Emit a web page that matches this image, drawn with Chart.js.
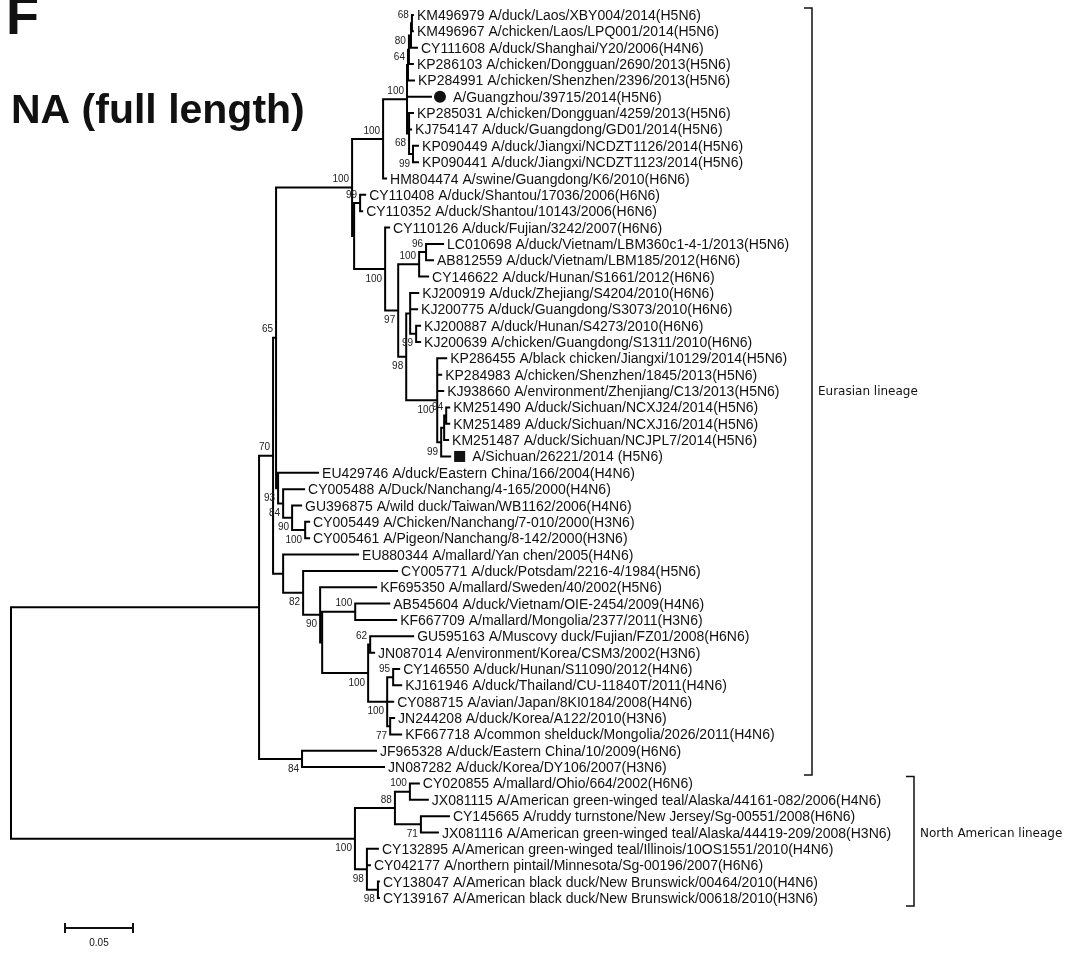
<!DOCTYPE html>
<html lang="en">
<head>
<meta charset="UTF-8">
<title>NA (full length)</title>
<script src="https://cdn.jsdelivr.net/npm/chart.js"></script>
<style>
  body { margin: 0; background: #fff; }
  #wrap { position: relative; width: 1071px; height: 956px; }
</style>
</head>
<body>
<div id="wrap"><canvas id="tree"></canvas></div>
<script>
// taxa, top to bottom
const taxa = [
  'KM496979 A/duck/Laos/XBY004/2014(H5N6)',
  'KM496967 A/chicken/Laos/LPQ001/2014(H5N6)',
  'CY111608 A/duck/Shanghai/Y20/2006(H4N6)',
  'KP286103 A/chicken/Dongguan/2690/2013(H5N6)',
  'KP284991 A/chicken/Shenzhen/2396/2013(H5N6)',
  'A/Guangzhou/39715/2014(H5N6)',
  'KP285031 A/chicken/Dongguan/4259/2013(H5N6)',
  'KJ754147 A/duck/Guangdong/GD01/2014(H5N6)',
  'KP090449 A/duck/Jiangxi/NCDZT1126/2014(H5N6)',
  'KP090441 A/duck/Jiangxi/NCDZT1123/2014(H5N6)',
  'HM804474 A/swine/Guangdong/K6/2010(H6N6)',
  'CY110408 A/duck/Shantou/17036/2006(H6N6)',
  'CY110352 A/duck/Shantou/10143/2006(H6N6)',
  'CY110126 A/duck/Fujian/3242/2007(H6N6)',
  'LC010698 A/duck/Vietnam/LBM360c1-4-1/2013(H5N6)',
  'AB812559 A/duck/Vietnam/LBM185/2012(H6N6)',
  'CY146622 A/duck/Hunan/S1661/2012(H6N6)',
  'KJ200919 A/duck/Zhejiang/S4204/2010(H6N6)',
  'KJ200775 A/duck/Guangdong/S3073/2010(H6N6)',
  'KJ200887 A/duck/Hunan/S4273/2010(H6N6)',
  'KJ200639 A/chicken/Guangdong/S1311/2010(H6N6)',
  'KP286455 A/black chicken/Jiangxi/10129/2014(H5N6)',
  'KP284983 A/chicken/Shenzhen/1845/2013(H5N6)',
  'KJ938660 A/environment/Zhenjiang/C13/2013(H5N6)',
  'KM251490 A/duck/Sichuan/NCXJ24/2014(H5N6)',
  'KM251489 A/duck/Sichuan/NCXJ16/2014(H5N6)',
  'KM251487 A/duck/Sichuan/NCJPL7/2014(H5N6)',
  'A/Sichuan/26221/2014 (H5N6)',
  'EU429746 A/duck/Eastern China/166/2004(H4N6)',
  'CY005488 A/Duck/Nanchang/4-165/2000(H4N6)',
  'GU396875 A/wild duck/Taiwan/WB1162/2006(H4N6)',
  'CY005449 A/Chicken/Nanchang/7-010/2000(H3N6)',
  'CY005461 A/Pigeon/Nanchang/8-142/2000(H3N6)',
  'EU880344 A/mallard/Yan chen/2005(H4N6)',
  'CY005771 A/duck/Potsdam/2216-4/1984(H5N6)',
  'KF695350 A/mallard/Sweden/40/2002(H5N6)',
  'AB545604 A/duck/Vietnam/OIE-2454/2009(H4N6)',
  'KF667709 A/mallard/Mongolia/2377/2011(H3N6)',
  'GU595163 A/Muscovy duck/Fujian/FZ01/2008(H6N6)',
  'JN087014 A/environment/Korea/CSM3/2002(H3N6)',
  'CY146550 A/duck/Hunan/S11090/2012(H4N6)',
  'KJ161946 A/duck/Thailand/CU-11840T/2011(H4N6)',
  'CY088715 A/avian/Japan/8KI0184/2008(H4N6)',
  'JN244208 A/duck/Korea/A122/2010(H3N6)',
  'KF667718 A/common shelduck/Mongolia/2026/2011(H4N6)',
  'JF965328 A/duck/Eastern China/10/2009(H6N6)',
  'JN087282 A/duck/Korea/DY106/2007(H3N6)',
  'CY020855 A/mallard/Ohio/664/2002(H6N6)',
  'JX081115 A/American green-winged teal/Alaska/44161-082/2006(H4N6)',
  'CY145665 A/ruddy turnstone/New Jersey/Sg-00551/2008(H6N6)',
  'JX081116 A/American green-winged teal/Alaska/44419-209/2008(H3N6)',
  'CY132895 A/American green-winged teal/Illinois/10OS1551/2010(H4N6)',
  'CY042177 A/northern pintail/Minnesota/Sg-00196/2007(H6N6)',
  'CY138047 A/American black duck/New Brunswick/00464/2010(H4N6)',
  'CY139167 A/American black duck/New Brunswick/00618/2010(H3N6)'
];

const leafParent = [
  'N68', 'N68', 'N2', 'N80', 'N64', 'A', 'NK', 'NK', 'NJ', 'NJ',
  'B', 'SH', 'SH', 'E', 'J', 'J', 'I', 'L', 'L', 'L99',
  'L99', 'M', 'M', 'M', 'O', 'O', 'P', 'N', 'R', 'S',
  'T', 'U', 'U', 'W', 'X', 'Y', 'Z', 'Z', 'AF', 'AF',
  'AB', 'AB', 'AD', 'AC', 'AC', 'JJ', 'JJ', 'N100', 'N100', 'N71',
  'N71', 'AH', 'AH', 'AG', 'AG'
];

const leafLength = [
  0.0007, 0.0007, 0.0044, 0.0029, 0.0044, 0.0176, 0.0029, 0.0015, 0.0037, 0.0037,
  0.0022, 0.0037, 0.0015, 0.0029, 0.0125, 0.0051, 0.0066, 0.0059, 0.0051, 0.0029,
  0.0029, 0.0066, 0.0029, 0.0044, 0.0022, 0.0022, 0.0029, 0.0066, 0.0294, 0.0154,
  0.0066, 0.0029, 0.0029, 0.0551, 0.0691, 0.0412, 0.0250, 0.0301, 0.0316, 0.0029,
  0.0044, 0.0059, 0.0044, 0.0029, 0.0081, 0.0544, 0.0603, 0.0066, 0.0132, 0.0206,
  0.0125, 0.0081, 0.0022, 0.0007, 0.0007
];

// the two sequences from this study
const markedTaxa = [5, 27];
const markerShapes = ['circle', 'square'];

// internal nodes, parents listed before children
const nodeIds = [
  'root', 'EU', 'NA', 'V', 'JJ', 'Q', 'W', 'C', 'R', 'S',
  'T', 'U', 'B', 'F', 'A', 'N64', 'N80', 'N2', 'N68', 'NK',
  'NJ', 'SH', 'E', 'G', 'I', 'J', 'K', 'L', 'L99', 'M',
  'N', 'P', 'O', 'X', 'Y', 'Y2', 'Z', 'AE', 'AF', 'AD',
  'AB', 'AC', 'N88', 'N100', 'N71', 'AH', 'AG'
];
const nodeParent = [
  null, 'root', 'root', 'EU', 'EU', 'V', 'V', 'Q', 'Q', 'R',
  'S', 'T', 'C', 'C', 'B', 'A', 'N64', 'N80', 'N2', 'A',
  'NK', 'F', 'F', 'E', 'G', 'I', 'G', 'K', 'L', 'K',
  'M', 'N', 'P', 'W', 'X', 'Y', 'Y2', 'Y2', 'AE', 'AE',
  'AD', 'AD', 'NA', 'N88', 'N88', 'NA', 'AH'
];
const nodeLength = [
  0, 0.1824, 0.2529, 0.0103, 0.0316, 0.0022, 0.0074, 0.0559, 0.0015, 0.0037,
  0.0066, 0.0096, 0.0228, 0.0015, 0.0176, 0.0007, 0.0007, 0.0015, 0.0007, 0.0015,
  0.0029, 0.0044, 0.0228, 0.0096, 0.0154, 0.0051, 0.0059, 0.0029, 0.0044, 0.0228,
  0.0029, 0.0022, 0.0015, 0.0147, 0.0125, 0.0015, 0.0243, 0.0338, 0.0015, 0.0140,
  0.0044, 0.0022, 0.0294, 0.0110, 0.0191, 0.0088, 0.0081
];
const nodeSupport = [
  null, null, 100, 70, 84, 65, null, 100, 93, 84,
  90, 100, 100, null, 100, 64, 80, null, 68, 68,
  99, 99, 100, 97, 100, 96, 98, null, 99, 100,
  99, null, 94, 82, 90, null, 100, 100, 62, 100,
  95, 77, 88, 100, 71, 98, 98
];

const lineageNames = ['Eurasian lineage', 'North American lineage'];
const lineageFirst = [0, 47];
const lineageLast = [46, 54];

const scaleBarLength = 0.05;

// page geometry
const W = 1071, H = 956;
const PX_PER_UNIT = 1360, ROOT_PX = 11;
const ROW_PX = 16.35, FIRST_ROW_PX = 15;

// --- lay the tree out in data units (x = distance from root, y = row) ---
const nodeX = {}, nodeY = {}, kidsY = {};
nodeIds.forEach((id, i) => {
  nodeX[id] = nodeParent[i] ? nodeX[nodeParent[i]] + nodeLength[i] : 0;
  kidsY[id] = [];
});
const leafX = taxa.map((t, i) => nodeX[leafParent[i]] + leafLength[i]);
taxa.forEach((t, i) => kidsY[leafParent[i]].push(i));
for (let i = nodeIds.length - 1; i >= 0; i--) {
  const id = nodeIds[i];
  const ys = kidsY[id];
  nodeY[id] = (Math.min(...ys) + Math.max(...ys)) / 2;
  if (nodeParent[i]) kidsY[nodeParent[i]].push(nodeY[id]);
}

const segs = [];
function seg(x1, y1, x2, y2) {
  segs.push({x: x1, y: y1}, {x: x2, y: y2}, {x: NaN, y: NaN});
}
nodeIds.forEach((id, i) => {
  const ys = kidsY[id];
  seg(nodeX[id], Math.min(...ys), nodeX[id], Math.max(...ys));
  if (nodeParent[i]) seg(nodeX[nodeParent[i]], nodeY[id], nodeX[id], nodeY[id]);
});
taxa.forEach((t, i) => seg(nodeX[leafParent[i]], i, leafX[i], i));

const treeText = {
  id: 'treeText',
  afterDatasetsDraw(chart) {
    const {ctx, scales: {x, y}} = chart;
    ctx.save();
    ctx.fillStyle = '#111';

    // panel letter and title
    ctx.font = 'bold 54px "Liberation Sans", Arial, sans-serif';
    ctx.fillText('F', 6, 34);
    ctx.font = 'bold 41px "Liberation Sans", Arial, sans-serif';
    ctx.fillText('NA (full length)', 11, 123);

    // taxon names
    ctx.font = '14px "Liberation Sans", Arial, sans-serif';
    taxa.forEach((name, i) => {
      const px = x.getPixelForValue(leafX[i]);
      const py = y.getPixelForValue(i);
      let tx = px + 4;
      const m = markedTaxa.indexOf(i);
      if (m >= 0) {
        if (markerShapes[m] === 'circle') {
          ctx.beginPath();
          ctx.arc(px + 9, py, 6, 0, 2 * Math.PI);
          ctx.fill();
        } else {
          ctx.fillRect(px + 4, py - 5.5, 11, 11);
        }
        tx = px + 22;
      }
      ctx.fillText(name, tx, py + 5);
    });

    // bootstrap values
    ctx.font = '10px "Liberation Sans", Arial, sans-serif';
    ctx.fillStyle = '#222';
    ctx.textAlign = 'right';
    nodeIds.forEach((id, i) => {
      if (nodeSupport[i] == null) return;
      const upper = nodeY[id] === Math.min(...kidsY[nodeParent[i]]);
      const px = x.getPixelForValue(nodeX[id]) - 3;
      const py = y.getPixelForValue(nodeY[id]) + (upper ? -9 : 9);
      ctx.fillText(String(nodeSupport[i]), px, py + 3.6);
    });

    // lineage brackets, caption on the middle taxon row
    const bx = [812, 914];
    ctx.strokeStyle = '#111';
    ctx.lineWidth = 1.5;
    ctx.textAlign = 'left';
    ctx.font = '12px "DejaVu Sans", Verdana, sans-serif';
    ctx.fillStyle = '#111';
    lineageNames.forEach((name, k) => {
      const top = y.getPixelForValue(lineageFirst[k]) - 7;
      const bot = y.getPixelForValue(lineageLast[k]) + 8;
      ctx.beginPath();
      ctx.moveTo(bx[k] - 8, top);
      ctx.lineTo(bx[k], top);
      ctx.lineTo(bx[k], bot);
      ctx.lineTo(bx[k] - 8, bot);
      ctx.stroke();
      const mid = Math.floor((lineageFirst[k] + lineageLast[k]) / 2);
      ctx.fillText(name, bx[k] + 6, y.getPixelForValue(mid) + 4);
    });

    // scale bar
    const sx0 = 65, sy = 928;
    const sx1 = sx0 + x.getPixelForValue(scaleBarLength) - x.getPixelForValue(0);
    ctx.lineWidth = 2;
    ctx.beginPath();
    ctx.moveTo(sx0, sy); ctx.lineTo(sx1, sy);
    ctx.moveTo(sx0, sy - 5); ctx.lineTo(sx0, sy + 5);
    ctx.moveTo(sx1, sy - 5); ctx.lineTo(sx1, sy + 5);
    ctx.stroke();
    ctx.font = '10px "Liberation Sans", Arial, sans-serif';
    ctx.textAlign = 'center';
    ctx.fillText(String(scaleBarLength), (sx0 + sx1) / 2, sy + 18);
    ctx.restore();
  }
};

new Chart(document.getElementById('tree'), {
  type: 'scatter',
  data: {
    datasets: [{
      data: segs,
      showLine: true,
      spanGaps: false,
      borderColor: '#000',
      borderWidth: 2,
      borderCapStyle: 'square',
      pointRadius: 0,
      pointHoverRadius: 0
    }]
  },
  options: {
    responsive: true,
    maintainAspectRatio: false,
    animation: false,
    events: [],
    layout: { padding: 0 },
    plugins: { legend: { display: false }, tooltip: { enabled: false } },
    scales: {
      x: { type: 'linear', display: false, min: -ROOT_PX / PX_PER_UNIT, max: (W - ROOT_PX) / PX_PER_UNIT },
      y: { type: 'linear', display: false, reverse: true, min: -FIRST_ROW_PX / ROW_PX, max: (H - FIRST_ROW_PX) / ROW_PX }
    }
  },
  plugins: [treeText]
});
</script>
</body>
</html>
